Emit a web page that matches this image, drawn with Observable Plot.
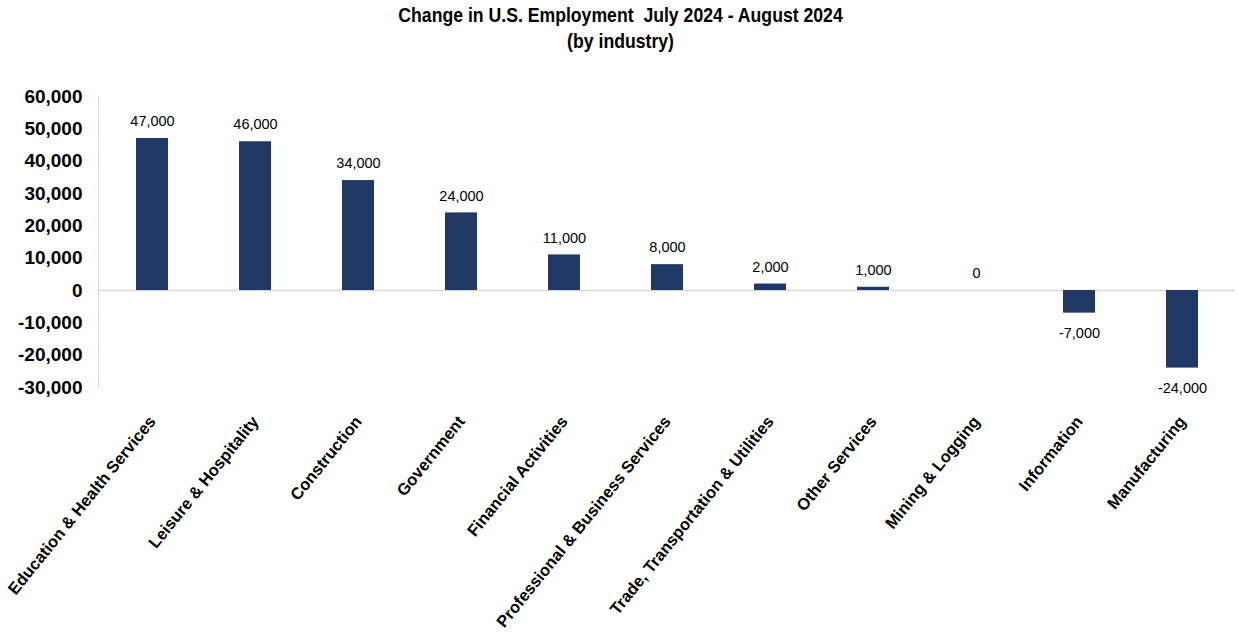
<!DOCTYPE html>
<html>
<head>
<meta charset="utf-8">
<script src="https://cdn.jsdelivr.net/npm/d3@7"></script>
<script src="https://cdn.jsdelivr.net/npm/@observablehq/plot@0.6"></script>
<style>
  html, body { margin: 0; padding: 0; background: #fff; }
  #wrap { width: 1239px; height: 634px; position: relative; overflow: hidden; font-family: "Liberation Sans", Arial, sans-serif; }
  #title { position: absolute; left: 0; top: 2px; width: 1239px; text-align: center; font-family: "Liberation Sans Narrow", "Liberation Sans", Arial, sans-serif; font-weight: bold; font-size: 21px; line-height: 26px; color: #000; transform: scaleX(0.84); transform-origin: 626px 0; }
  #chart { position: absolute; left: 0; top: 60px; }
</style>
</head>
<body>
<div id="wrap">
  <div id="title">Change in U.S. Employment&nbsp; July 2024 - August 2024<br>(by industry)</div>
  <div id="chart"></div>
</div>
<script>
const industries = [
  "Education & Health Services",
  "Leisure & Hospitality",
  "Construction",
  "Government",
  "Financial Activities",
  "Professional & Business Services",
  "Trade, Transportation & Utilities",
  "Other Services",
  "Mining & Logging",
  "Information",
  "Manufacturing"
];
const changes = [47000, 46000, 34000, 24000, 11000, 8000, 2000, 1000, 0, -7000, -24000];
const yTicks = [-30000, -20000, -10000, 0, 10000, 20000, 30000, 40000, 50000, 60000];

const data = industries.map((name, i) => ({ name, value: changes[i] }));
const fmt = d => d.toLocaleString("en-US");

const plot = Plot.plot({
  width: 1239,
  height: 574,
  marginTop: 36,
  marginBottom: 247,
  marginLeft: 98,
  marginRight: 4,
  style: { fontFamily: "'Liberation Sans', Arial, sans-serif", background: "transparent", overflow: "visible" },
  x: { domain: industries, paddingInner: 0.69, paddingOuter: 0.32, align: 0.5 },
  y: { domain: [-30000, 60000] },
  marks: [
    Plot.frame({ anchor: "left", stroke: "#d9d9d9", strokeWidth: 1 }),
    Plot.ruleY([0], { stroke: "#d9d9d9", strokeWidth: 1.5 }),
    Plot.barY(data, { x: "name", y: "value", fill: "#1f3864" }),
    Plot.text(data.filter(d => d.value >= 0), { x: "name", y: "value", text: d => fmt(d.value), dy: -17, fontSize: 14.5, fill: "#000" }),
    Plot.text(data.filter(d => d.value < 0), { x: "name", y: "value", text: d => fmt(d.value), dy: 20, fontSize: 14.5, fill: "#000" }),
    Plot.axisY({ ticks: yTicks, tickFormat: fmt, tickSize: 0, tickPadding: 16, fontSize: 19, fontWeight: "bold", fill: "#000", label: null }),
    Plot.axisX({ tickSize: 0, tickPadding: 31, tickRotate: -51, fontSize: 16.5, fontWeight: "bold", fill: "#000", label: null })
  ]
});
document.getElementById("chart").appendChild(plot);
</script>
</body>
</html>
